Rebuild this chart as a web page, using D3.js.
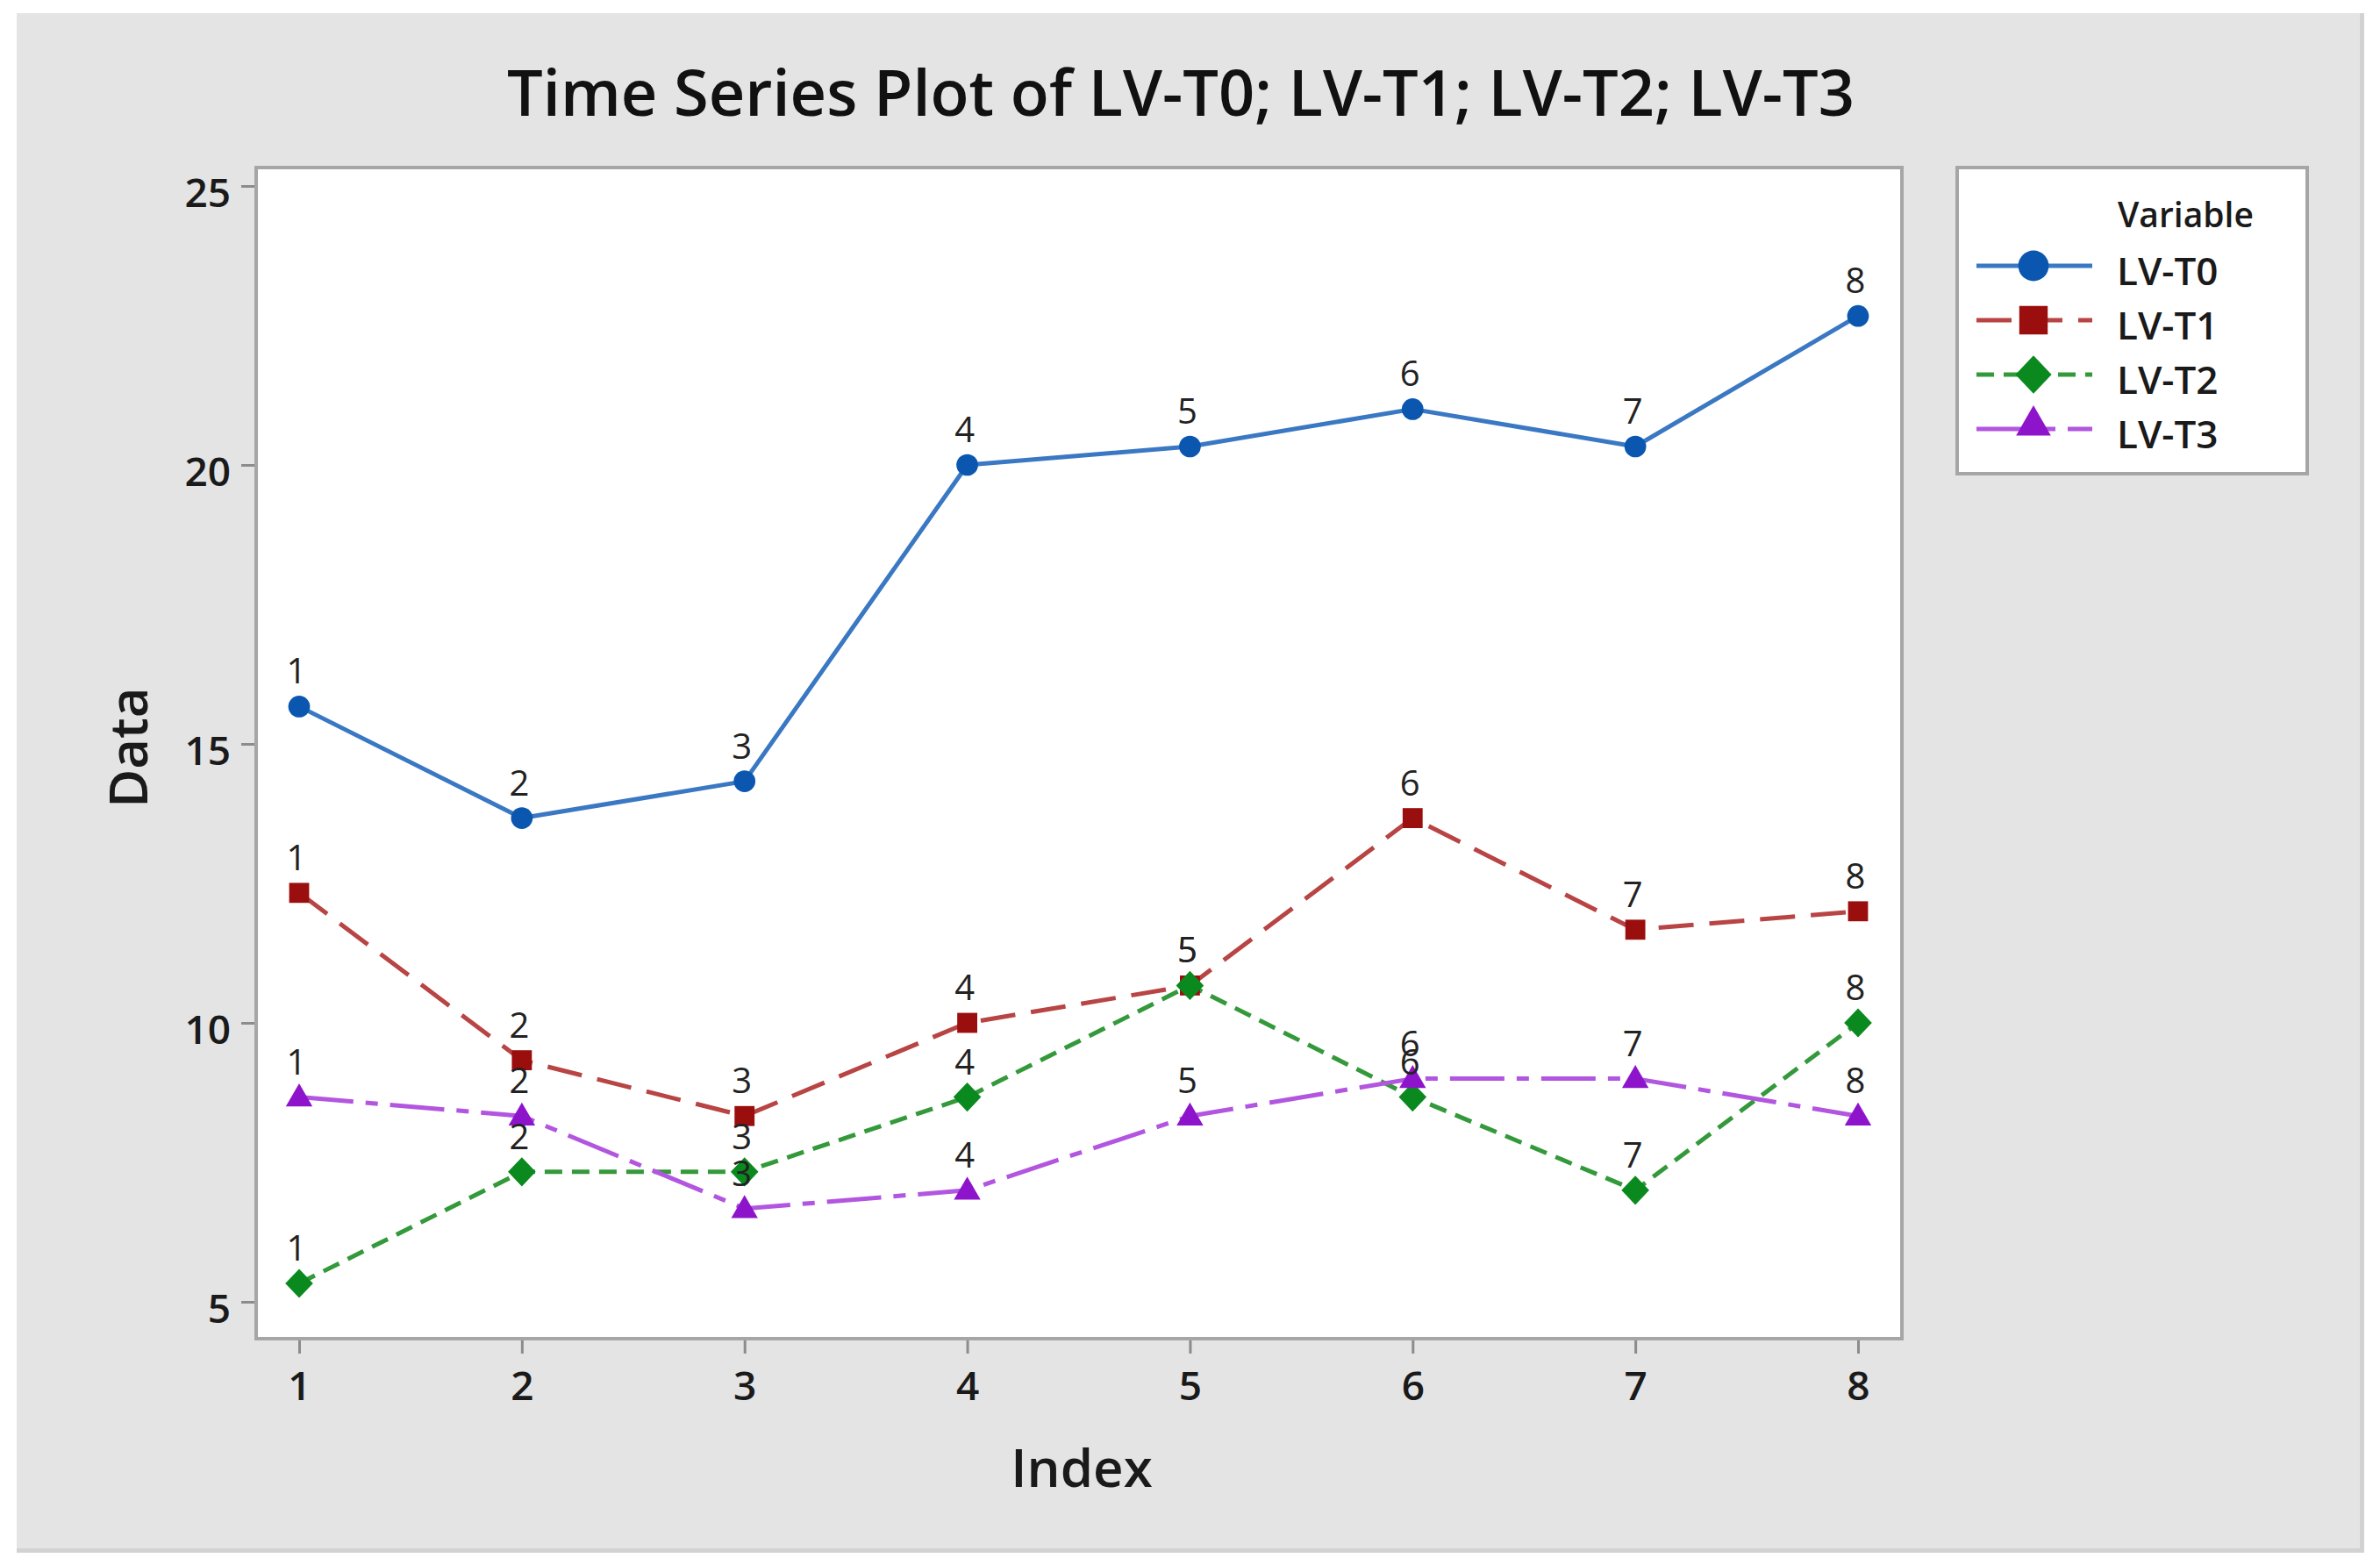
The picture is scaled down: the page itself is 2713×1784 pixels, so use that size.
<!DOCTYPE html>
<html>
<head>
<meta charset="utf-8">
<script src="https://cdn.jsdelivr.net/npm/d3@7"></script>
<style>
  html, body { margin: 0; padding: 0; background: #ffffff; }
  svg { display: block; }
</style>
</head>
<body>
<svg id="chart" width="2713" height="1784"></svg>
<script>
// ---------------- DATA ----------------
const indexValues = [1, 2, 3, 4, 5, 6, 7, 8];
const seriesNames = ["LV-T0", "LV-T1", "LV-T2", "LV-T3"];
const lvT0 = [15.67, 13.67, 14.33, 20.00, 20.33, 21.00, 20.33, 22.67];
const lvT1 = [12.33, 9.33, 8.33, 10.00, 10.67, 13.67, 11.67, 12.00];
const lvT2 = [5.33, 7.33, 7.33, 8.67, 10.67, 8.67, 7.00, 10.00];
const lvT3 = [8.67, 8.33, 6.67, 7.00, 8.33, 9.00, 9.00, 8.33];
const yTicks = [5, 10, 15, 20, 25];
const xTicks = [1, 2, 3, 4, 5, 6, 7, 8];
const titleText = "Time Series Plot of LV-T0; LV-T1; LV-T2; LV-T3";
const xLabel = "Index";
const yLabel = "Data";
const legendTitle = "Variable";

// ---------------- STYLE ----------------
const FONT = "'Open Sans', 'Noto Sans', 'DejaVu Sans', sans-serif";
const diamondType = {
  draw(ctx, size) {
    const h = Math.sqrt(size) / 2;
    ctx.moveTo(0, -h * 1.05);
    ctx.lineTo(h, 0);
    ctx.lineTo(0, h * 1.05);
    ctx.lineTo(-h, 0);
    ctx.closePath();
  }
};
const styles = [
  { line: "#3a78c3", marker: "#0b57b0", dash: null, symbol: d3.symbolCircle, size: 480, lsize: 950 },
  { line: "#b84444", marker: "#9a0e0e", dash: "40,18", symbol: d3.symbolSquare, size: 520, lsize: 1050 },
  { line: "#34993a", marker: "#0a8a1e", dash: "20,11", symbol: diamondType, size: 1000, lsize: 1700 },
  { line: "#b256e0", marker: "#8e14cc", dash: "62,14,14,14", symbol: d3.symbolTriangle, size: 400, lsize: 680 }
];
const allSeries = [lvT0, lvT1, lvT2, lvT3];

// ---------------- LAYOUT ----------------
const W = 2713, H = 1784;
const frame = { x0: 292, y0: 191, x1: 2168, y1: 1526 };
const svg = d3.select("#chart");

// outer background
svg.append("rect").attr("x", 0).attr("y", 0).attr("width", W).attr("height", H).attr("fill", "#ffffff");
svg.append("rect").attr("x", 19).attr("y", 15).attr("width", 2676).attr("height", 1755)
  .attr("fill", "#d2d2d2");
svg.append("rect").attr("x", 19).attr("y", 15).attr("width", 2671).attr("height", 1750)
  .attr("fill", "#e4e4e4");

// scales
const x = d3.scaleLinear().domain([1, 8]).range([341, 2118]);
const y = d3.scaleLinear().domain([5, 25]).range([1484, 212]);

// plot frame
svg.append("rect")
  .attr("x", frame.x0).attr("y", frame.y0)
  .attr("width", frame.x1 - frame.x0).attr("height", frame.y1 - frame.y0)
  .attr("fill", "#ffffff").attr("stroke", "#a6a6a6").attr("stroke-width", 4);

// axes
const yAxis = svg.append("g")
  .attr("transform", `translate(${frame.x0 - 2},0)`)
  .call(d3.axisLeft(y).tickValues(yTicks).tickFormat(d3.format("d")).tickSize(15).tickPadding(12));
const xAxis = svg.append("g")
  .attr("transform", `translate(0,${frame.y1 + 2})`)
  .call(d3.axisBottom(x).tickValues(xTicks).tickFormat(d3.format("d")).tickSize(15).tickPadding(20));
[yAxis, xAxis].forEach(g => {
  g.select(".domain").remove();
  g.selectAll(".tick line").attr("stroke", "#8c8c8c").attr("stroke-width", 3);
  g.selectAll(".tick text")
    .attr("fill", "#1a1a1a")
    .style("font-family", FONT)
    .style("font-size", "46px")
    .style("font-weight", 600);
});
yAxis.selectAll(".tick text").attr("dy", "0.5em");

// axis titles
svg.append("text")
  .attr("x", 1233).attr("y", 1695)
  .attr("text-anchor", "middle")
  .style("font-family", FONT).style("font-size", "60px").style("font-weight", 600)
  .attr("fill", "#1a1a1a")
  .text(xLabel);
svg.append("text")
  .attr("transform", "translate(168,852) rotate(-90)")
  .attr("text-anchor", "middle")
  .style("font-family", FONT).style("font-size", "60px").style("font-weight", 600)
  .attr("fill", "#1a1a1a")
  .text(yLabel);

// title (fit to measured width of reference)
const title = svg.append("text")
  .attr("x", 1346).attr("y", 132)
  .attr("text-anchor", "middle")
  .style("font-family", FONT).style("font-size", "76px").style("font-weight", 600)
  .attr("fill", "#111111")
  .text(titleText);
const tw = title.node().getComputedTextLength();
title.style("font-size", (76 * 1536 / tw).toFixed(2) + "px");

// series
const line = d3.line().x((d, i) => x(indexValues[i])).y(d => y(d));
const plot = svg.append("g");
allSeries.forEach((vals, si) => {
  const st = styles[si];
  plot.append("path")
    .datum(vals)
    .attr("d", line)
    .attr("fill", "none")
    .attr("stroke", st.line)
    .attr("stroke-width", 5)
    .attr("stroke-dasharray", st.dash)
    .attr("stroke-linejoin", "round");
});
allSeries.forEach((vals, si) => {
  const st = styles[si];
  const sym = d3.symbol().type(st.symbol).size(st.size);
  plot.selectAll(null)
    .data(vals)
    .join("path")
    .attr("d", sym)
    .attr("transform", (d, i) => `translate(${x(indexValues[i])},${y(d) + (si === 3 ? 2 : 0)})`)
    .attr("fill", st.marker);
});
allSeries.forEach((vals, si) => {
  plot.selectAll(null)
    .data(vals)
    .join("text")
    .attr("x", (d, i) => x(indexValues[i]) - 3)
    .attr("y", d => y(d) - 26)
    .attr("text-anchor", "middle")
    .style("font-family", FONT).style("font-size", "40px")
    .attr("fill", "#222222")
    .text((d, i) => indexValues[i]);
});

// legend
const lg = svg.append("g");
lg.append("rect")
  .attr("x", 2231).attr("y", 191).attr("width", 399).attr("height", 349)
  .attr("fill", "#ffffff").attr("stroke", "#a6a6a6").attr("stroke-width", 4);
lg.append("text")
  .attr("x", 2414).attr("y", 259)
  .style("font-family", FONT).style("font-size", "39px").style("font-weight", 600)
  .attr("fill", "#1a1a1a")
  .text(legendTitle);
seriesNames.forEach((name, si) => {
  const st = styles[si];
  const cy = 303 + si * 62;
  lg.append("line")
    .attr("x1", 2253).attr("x2", 2385).attr("y1", cy).attr("y2", cy)
    .attr("stroke", st.line).attr("stroke-width", 5)
    .attr("stroke-dasharray", st.dash);
  lg.append("path")
    .attr("d", d3.symbol().type(st.symbol).size(st.lsize))
    .attr("transform", `translate(2318,${cy - (si === 3 ? 4 : 0)})`)
    .attr("fill", st.marker);
  lg.append("text")
    .attr("x", 2413).attr("y", cy + 22)
    .style("font-family", FONT).style("font-size", "44px").style("font-weight", 600)
    .attr("fill", "#1a1a1a")
    .text(name);
});
</script>
</body>
</html>
